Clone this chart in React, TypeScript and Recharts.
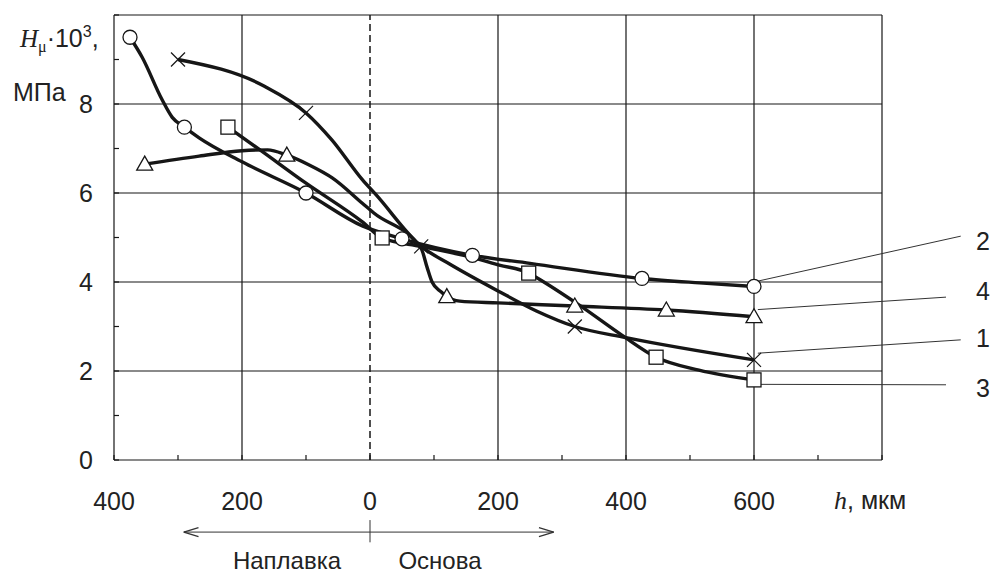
import React from 'react'
import { ComposedChart, Line, Scatter, XAxis, YAxis, ReferenceLine } from 'recharts'

// curve 1 (crosses)
const c1X = [-300, -165, -100, -60, -12, 10, 80, 125, 200, 260, 320, 400, 600]
const c1Y = [9.0, 8.4, 7.8, 7.2, 6.3, 5.95, 4.8, 4.4, 3.8, 3.35, 3.0, 2.75, 2.25]
const c1Marks = [-300, -100, 80, 320, 600]

// curve 2 (circles)
const c2X = [-375, -356, -325, -309, -290, -267, -200, -100, -12, 50, 160, 250, 425, 515, 600]
const c2Y = [9.5, 9.05, 8.1, 7.7, 7.48, 7.24, 6.7, 6.0, 5.26, 4.97, 4.6, 4.42, 4.08, 3.98, 3.9]
const c2Marks = [-375, -290, -100, 50, 160, 425, 600]

// curve 3 (squares)
const c3X = [-222, -173, -100, -12, 19, 80, 160, 202, 248, 260, 331, 394, 447, 514, 600]
const c3Y = [7.48, 6.98, 6.22, 5.35, 4.99, 4.8, 4.55, 4.38, 4.2, 4.1, 3.44, 2.8, 2.31, 2.02, 1.8]
const c3Marks = [-222, 19, 248, 447, 600]

// curve 4 (triangles)
const c4X = [-352, -267, -200, -160, -130, -95, -59, -12, 6, 80, 89, 97, 111, 120, 140, 200, 320, 463, 600]
const c4Y = [6.65, 6.83, 6.95, 6.97, 6.85, 6.63, 6.34, 5.77, 5.55, 4.75, 4.34, 4.0, 3.78, 3.67, 3.57, 3.53, 3.46, 3.37, 3.22]
const c4Marks = [-352, -130, 120, 320, 463, 600]

const xTicks = [-400, -300, -200, -100, 0, 100, 200, 300, 400, 500, 600, 700, 800]
const yTicks = [0, 1, 2, 3, 4, 5, 6, 7, 8, 9, 10]
const xGrid = [-200, 200, 400, 600, 800]
const yGrid = [2, 4, 6, 8, 10]

// leader lines to the curve numbers: [label, x0, y0, x1, y1]
const leaders: [string, number, number, number, number][] = [
  ['2', 606, 4.02, 923, 5.03],
  ['4', 606, 3.38, 900, 3.66],
  ['1', 606, 2.4, 923, 2.7],
  ['3', 606, 1.7, 900, 1.69],
]

const pts = (xs: number[], ys: number[]) => xs.map((x, i) => ({ x, y: ys[i] }))
const marks = (xs: number[], ys: number[], m: number[]) => pts(xs, ys).filter(p => m.includes(p.x))

const INK = '#161616'
const FONT = '"Liberation Sans", Arial, sans-serif'
const SERIF = '"Liberation Serif", "Times New Roman", serif'

const Circle = (p: any) => <circle cx={p.cx} cy={p.cy} r={7} fill="#fff" stroke={INK} strokeWidth={1.3} />
const Square = (p: any) => <rect x={p.cx - 7} y={p.cy - 7} width={14} height={14} fill="#fff" stroke={INK} strokeWidth={1.3} />
const Triangle = (p: any) => (
  <polygon
    points={`${p.cx},${p.cy - 8} ${p.cx - 8},${p.cy + 6} ${p.cx + 8},${p.cy + 6}`}
    fill="#fff"
    stroke={INK}
    strokeWidth={1.3}
  />
)
const Cross = (p: any) => (
  <g stroke={INK} strokeWidth={1.2}>
    <line x1={p.cx - 7} y1={p.cy - 7} x2={p.cx + 7} y2={p.cy + 7} />
    <line x1={p.cx - 7} y1={p.cy + 7} x2={p.cx + 7} y2={p.cy - 7} />
  </g>
)

export default function App() {
  const lineProps = {
    type: 'monotone' as const,
    dataKey: 'y',
    stroke: INK,
    strokeWidth: 3.4,
    dot: false,
    activeDot: false,
    isAnimationActive: false,
  }

  return (
    <div style={{ position: 'absolute', left: 0, top: 0, width: 993, height: 576, background: '#fff' }}>
      <ComposedChart width={993} height={576} margin={{ top: 15, right: 111, left: 54, bottom: 66 }}>
        <XAxis
          type="number"
          dataKey="x"
          domain={[-400, 800]}
          ticks={xTicks}
          interval={0}
          tickFormatter={(v: number) => (v % 200 === 0 && v !== 800 ? String(Math.abs(v)) : '')}
          tickSize={-5}
          tickMargin={37}
          height={50}
          axisLine={{ stroke: INK, strokeWidth: 1.2 }}
          tickLine={{ stroke: INK, strokeWidth: 1.2 }}
          tick={{ fill: '#222', fontSize: 25, fontFamily: FONT }}
        />
        <YAxis
          type="number"
          dataKey="y"
          domain={[0, 10]}
          ticks={yTicks}
          interval={0}
          tickFormatter={(v: number) => (v % 2 === 0 && v !== 10 ? String(v) : '')}
          tickSize={-5}
          tickMargin={26}
          width={60}
          axisLine={{ stroke: INK, strokeWidth: 1.2 }}
          tickLine={{ stroke: INK, strokeWidth: 1.2 }}
          tick={{ fill: '#222', fontSize: 25, fontFamily: FONT }}
        />

        {yGrid.map(v => (
          <ReferenceLine key={'h' + v} y={v} stroke={INK} strokeWidth={1.2} />
        ))}
        {xGrid.map(v => (
          <ReferenceLine key={'v' + v} x={v} stroke={INK} strokeWidth={1.2} />
        ))}
        <ReferenceLine x={0} stroke={INK} strokeWidth={1.5} strokeDasharray="7 4" />

        {leaders.map(([k, x0, y0, x1, y1]) => (
          <ReferenceLine
            key={'l' + k}
            segment={[{ x: x0, y: y0 }, { x: x1, y: y1 }]}
            stroke="#333"
            strokeWidth={1}
            ifOverflow="visible"
          />
        ))}

        {/* arrow under the axis: Наплавка <- | -> Основа */}
        <ReferenceLine segment={[{ x: -291, y: -1.62 }, { x: 287, y: -1.62 }]} stroke="#333" strokeWidth={1} ifOverflow="visible" />
        <ReferenceLine segment={[{ x: 0, y: -1.35 }, { x: 0, y: -1.85 }]} stroke="#333" strokeWidth={1} ifOverflow="visible" />
        <ReferenceLine segment={[{ x: -291, y: -1.62 }, { x: -268, y: -1.52 }]} stroke="#333" strokeWidth={1.3} ifOverflow="visible" />
        <ReferenceLine segment={[{ x: -291, y: -1.62 }, { x: -268, y: -1.72 }]} stroke="#333" strokeWidth={1.3} ifOverflow="visible" />
        <ReferenceLine segment={[{ x: 287, y: -1.62 }, { x: 264, y: -1.52 }]} stroke="#333" strokeWidth={1.3} ifOverflow="visible" />
        <ReferenceLine segment={[{ x: 287, y: -1.62 }, { x: 264, y: -1.72 }]} stroke="#333" strokeWidth={1.3} ifOverflow="visible" />

        <Line {...lineProps} data={pts(c1X, c1Y)} />
        <Line {...lineProps} data={pts(c2X, c2Y)} />
        <Line {...lineProps} data={pts(c3X, c3Y)} />
        <Line {...lineProps} data={pts(c4X, c4Y)} />

        <Scatter data={marks(c1X, c1Y, c1Marks)} dataKey="y" shape={Cross} isAnimationActive={false} />
        <Scatter data={marks(c2X, c2Y, c2Marks)} dataKey="y" shape={Circle} isAnimationActive={false} />
        <Scatter data={marks(c3X, c3Y, c3Marks)} dataKey="y" shape={Square} isAnimationActive={false} />
        <Scatter data={marks(c4X, c4Y, c4Marks)} dataKey="y" shape={Triangle} isAnimationActive={false} />
      </ComposedChart>

      <svg width={993} height={576} style={{ position: 'absolute', left: 0, top: 0, pointerEvents: 'none' }}>
        <g fill="#222">
          <text x={20} y={47} fontFamily={SERIF} fontStyle="italic" fontSize={25}>
            H
            <tspan fontStyle="normal" fontSize={16} dy={5}>μ</tspan>
            <tspan fontFamily={FONT} fontStyle="normal" fontSize={25} dy={-5}>·10</tspan>
            <tspan fontFamily={FONT} fontStyle="normal" fontSize={16} dy={-10}>3</tspan>
            <tspan fontFamily={FONT} fontStyle="normal" fontSize={25} dy={10}>,</tspan>
          </text>
          <text x={13} y={101} fontFamily={FONT} fontSize={25}>МПа</text>

          <text x={834} y={509} fontFamily={SERIF} fontStyle="italic" fontSize={26}>
            h
            <tspan fontFamily={FONT} fontStyle="normal" fontSize={25}>, мкм</tspan>
          </text>

          <text x={287} y={569} textAnchor="middle" fontFamily={FONT} fontSize={24}>Наплавка</text>
          <text x={440} y={569} textAnchor="middle" fontFamily={FONT} fontSize={24}>Основа</text>

          {leaders.map(([k], i) => (
            <text key={k} x={983} y={[250, 300, 347, 397][i]} textAnchor="middle" fontFamily={FONT} fontSize={25}>
              {k}
            </text>
          ))}
        </g>
      </svg>
    </div>
  )
}
